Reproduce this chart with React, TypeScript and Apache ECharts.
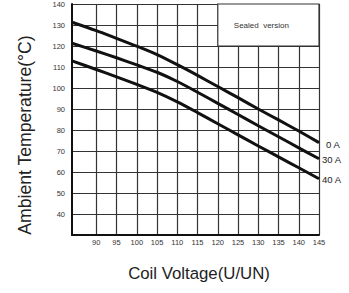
import React, { useEffect, useRef } from "react";
import * as echarts from "echarts";

const voltages = [84, 90, 95, 100, 105, 110, 115, 120, 125, 130, 135, 140, 145];
const temp0A = [131.3, 127.3, 123.6, 119.9, 115.9, 111.1, 106.0, 100.7, 95.4, 90.0, 84.8, 79.5, 74.0];
const temp30A = [121.3, 117.6, 114.4, 111.0, 107.5, 103.1, 98.0, 92.7, 87.4, 82.0, 76.8, 71.5, 66.3];
const temp40A = [112.9, 108.8, 105.3, 101.7, 97.9, 93.4, 88.3, 83.0, 77.7, 72.4, 67.2, 62.0, 56.8];
const seriesNames = ["0 A", "30 A", "40 A"];
const xTickLabels = [90, 95, 100, 105, 110, 115, 120, 125, 130, 135, 140, 145];
const yTickLabels = [40, 50, 60, 70, 80, 90, 100, 110, 120, 130, 140];
const boxText = "Sealed  version";
const xTitle = "Coil Voltage(U/UN)";
const yTitle = "Ambient Temperature(°C)";

const FONT = "Liberation Sans, Arial, sans-serif";

export default function App() {
  const ref = useRef<HTMLDivElement>(null);
  useEffect(() => {
    if (!ref.current) return;
    const chart = echarts.init(ref.current, undefined, { renderer: "svg" });
    const allSeries = [temp0A, temp30A, temp40A];
    const distances = [7, 3, 3];
    const offsets = [[0, 2], [0, 1], [0, 1]];
    chart.setOption({
      animation: false,
      backgroundColor: "#fff",
      grid: { left: 72, right: 30, top: 2, bottom: 58, show: false },
      xAxis: {
        type: "value",
        min: 84,
        max: 145,
        axisLine: { show: true, onZero: false, lineStyle: { color: "#111", width: 2 } },
        axisTick: { show: false, customValues: xTickLabels },
        axisLabel: {
          customValues: xTickLabels,
          fontSize: 7.5,
          color: "#333",
          fontFamily: FONT,
          margin: 3,
        },
        splitLine: { show: true, lineStyle: { color: "#333", width: 1.2 } },
      },
      yAxis: {
        type: "value",
        min: 30,
        max: 140,
        interval: 10,
        axisLine: { show: true, lineStyle: { color: "#111", width: 2 } },
        axisTick: { show: false },
        axisLabel: {
          fontSize: 7.5,
          color: "#333",
          fontFamily: FONT,
          margin: 7,
          padding: [6, 0, 0, 0],
          formatter: (v: number) => (yTickLabels.includes(v) ? String(v) : ""),
        },
        splitLine: { show: true, lineStyle: { color: "#333", width: 1.2 } },
      },
      graphic: [
        {
          type: "text",
          x: 199,
          y: 273,
          style: {
            text: xTitle,
            fontSize: 16.8,
            fontFamily: FONT,
            fill: "#222",
            align: "center",
            verticalAlign: "middle",
          },
        },
        {
          type: "text",
          x: 25,
          y: 135,
          rotation: Math.PI / 2,
          style: {
            text: yTitle,
            fontSize: 17.6,
            fontFamily: FONT,
            fill: "#222",
            align: "center",
            verticalAlign: "middle",
          },
        },
      ],
      series: allSeries.map((vals, i) => ({
        type: "line",
        name: seriesNames[i],
        data: voltages.map((v, j) => [v, vals[j]]),
        symbol: "none",
        smooth: 0.3,
        lineStyle: { color: "#111", width: 3 },
        z: 5,
        endLabel: {
          show: true,
          formatter: seriesNames[i],
          fontSize: 9.5,
          fontWeight: "normal",
          fontFamily: FONT,
          color: "#222",
          distance: distances[i],
          offset: offsets[i],
        },
        ...(i === 0
          ? {
              markArea: {
                silent: true,
                itemStyle: { color: "#fff", borderColor: "#333", borderWidth: 1.2 },
                label: {
                  show: true,
                  position: "inside",
                  formatter: boxText,
                  fontSize: 8,
                  fontFamily: FONT,
                  color: "#333",
                  offset: [-7, 0],
                },
                data: [[{ xAxis: 120, yAxis: 120 }, { xAxis: 145, yAxis: 140 }]],
              },
            }
          : {}),
      })),
    });
    return () => chart.dispose();
  }, []);
  return (
    <div
      ref={ref}
      style={{ position: "fixed", left: 0, top: 0, width: 349, height: 293 }}
    />
  );
}
